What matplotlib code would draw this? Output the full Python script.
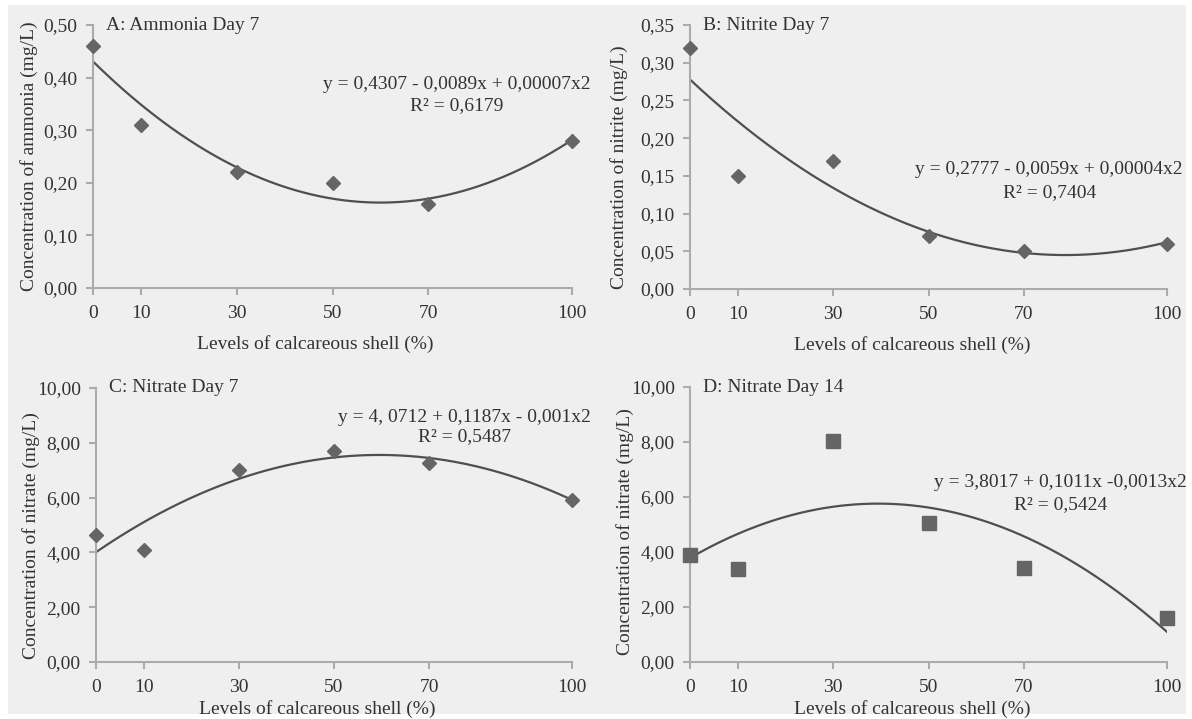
import numpy as np
import matplotlib
matplotlib.use("Agg")
import matplotlib.pyplot as plt
from matplotlib.patches import Rectangle

plt.rcParams['font.family'] = ['Liberation Serif', 'DejaVu Serif']

levels = [0, 10, 30, 50, 70, 100]

ammonia_d7 = [0.46, 0.31, 0.22, 0.20, 0.16, 0.28]
nitrite_d7 = [0.32, 0.15, 0.17, 0.07, 0.05, 0.06]
nitrate_d7 = [4.62, 4.10, 7.00, 7.70, 7.28, 5.92]
nitrate_d14 = [3.90, 3.38, 8.02, 5.05, 3.42, 1.60]

titles = ["A: Ammonia Day 7", "B: Nitrite Day 7", "C: Nitrate Day 7", "D: Nitrate Day 14"]
ylabels = ["Concentration of ammonia (mg/L)", "Concentration of nitrite (mg/L)",
           "Concentration of nitrate (mg/L)", "Concentration of nitrate (mg/L)"]
equations = ["y = 0,4307 - 0,0089x + 0,00007x2", "y = 0,2777 - 0,0059x + 0,00004x2",
             "y = 4, 0712 + 0,1187x - 0,001x2", "y = 3,8017 + 0,1011x -0,0013x2"]
r2_texts = ["R² = 0,6179", "R² = 0,7404", "R² = 0,5487", "R² = 0,5424"]

yticks_small = [0.0, 0.1, 0.2, 0.3, 0.4, 0.5]
yticks_nitrite = [0.0, 0.05, 0.10, 0.15, 0.20, 0.25, 0.30, 0.35]
yticks_nitrate = [0, 2, 4, 6, 8, 10]

TXT = '#333333'
MARK = '#656565'
LINE = '#4f4f4f'
SPINE = '#ababab'
BG = '#efefef'

fig = plt.figure(figsize=(11.92, 7.19), dpi=100, facecolor='white')
bg = Rectangle((8 / 1192, 5 / 719), 1 - 14 / 1192, 1 - 10 / 719,
               transform=fig.transFigure, facecolor=BG, edgecolor='none', zorder=-10)
fig.patches.append(bg)

boxes = [
    [93 / 1192, 1 - 288 / 719, 479 / 1192, 263 / 719],
    [690 / 1192, 1 - 289 / 719, 477 / 1192, 264 / 719],
    [96 / 1192, 1 - 662 / 719, 476 / 1192, 274 / 719],
    [690 / 1192, 1 - 662 / 719, 477 / 1192, 275 / 719],
]
series = [ammonia_d7, nitrite_d7, nitrate_d7, nitrate_d14]
yticks_all = [yticks_small, yticks_nitrite, yticks_nitrate, yticks_nitrate]
markers = ['D', 'D', 'D', 's']
msizes = [7.5, 7.5, 7.5, 10]
eq_pos = [(0.760, 0.772, 0.692), (0.753, 0.451, 0.367),
          (0.775, 0.894, 0.821), (0.776, 0.651, 0.571)]
xlabel_y = [-0.18, -0.18, -0.14, -0.14]
ylabel_pos = [(-0.115, 0.50), (-0.13, 0.46), (-0.118, 0.46), (-0.117, 0.476)]

xx = np.linspace(0, 100, 300)
for i in range(4):
    ax = fig.add_axes(boxes[i])
    ax.set_facecolor('none')
    y = series[i]
    ticks = yticks_all[i]
    coef = np.polyfit(levels, y, 2)
    ax.plot(xx, np.polyval(coef, xx), color=LINE, lw=1.6, zorder=2)
    ax.plot(levels, y, linestyle='none', marker=markers[i], ms=msizes[i],
            color=MARK, mec=MARK, zorder=3, clip_on=False)

    ax.set_xlim(0, 100)
    ax.set_ylim(ticks[0], ticks[-1])
    ax.set_xticks(levels)
    ax.set_xticklabels([str(v) for v in levels])
    ax.set_yticks(ticks)
    ax.set_yticklabels([f"{v:.2f}".replace('.', ',') for v in ticks])
    for s in ['top', 'right']:
        ax.spines[s].set_visible(False)
    for s in ['left', 'bottom']:
        ax.spines[s].set_color(SPINE)
        ax.spines[s].set_linewidth(1.5)
    ax.tick_params(axis='both', colors=SPINE, labelcolor=TXT, labelsize=14,
                   length=5, width=1.5, direction='out')
    ax.tick_params(axis='x', pad=7)
    ax.tick_params(axis='y', pad=6)

    ax.set_xlabel("Levels of calcareous shell (%)", fontsize=14, color=TXT)
    ax.xaxis.set_label_coords(0.465, xlabel_y[i])
    ax.set_ylabel(ylabels[i], fontsize=14, color=TXT)
    ax.yaxis.set_label_coords(*ylabel_pos[i])

    ax.text(0.027, 1.0, titles[i], transform=ax.transAxes, fontsize=14,
            color=TXT, ha='left', va='center')
    ex, ey, ry = eq_pos[i]
    ax.text(ex, ey, equations[i], transform=ax.transAxes, fontsize=14,
            color=TXT, ha='center', va='center')
    ax.text(ex, ry, r2_texts[i], transform=ax.transAxes, fontsize=14,
            color=TXT, ha='center', va='center')

fig.savefig("out.png", dpi=100, facecolor=fig.get_facecolor())
